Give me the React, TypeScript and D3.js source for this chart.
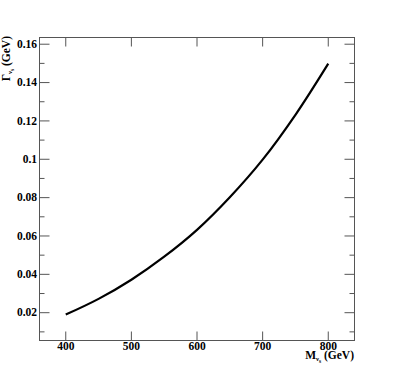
import React from "react";
import * as d3 from "d3";

const massGeV = [400, 450, 500, 550, 600, 650, 700, 750, 800];
const widthGeV = [0.019, 0.0272, 0.0372, 0.0492, 0.0632, 0.0802, 0.0998, 0.1232, 0.1499];
const xTicks = [400, 500, 600, 700, 800];
const yTicks = [0.02, 0.04, 0.06, 0.08, 0.1, 0.12, 0.14, 0.16];
const yMinor = [0.01, 0.03, 0.05, 0.07, 0.09, 0.11, 0.13, 0.15];

const W = 394, H = 378;
const L = 39.5, R = 354.5, T = 37.5, B = 340.5;
const AX = "#555";
const FONT = "'Liberation Serif', 'DejaVu Serif', 'Times New Roman', serif";

export default function App() {
  const x = d3.scaleLinear().domain([360, 840]).range([L, R]);
  const y = d3.scaleLinear().domain([0.0055, 0.1635]).range([B, T]);
  const line = d3
    .line<number>()
    .x((_, i) => x(massGeV[i]))
    .y((d) => y(d))
    .curve(d3.curveCatmullRom.alpha(0.5));
  const fmtY = (v: number) => String(+v.toFixed(2));
  return (
    <svg width={W} height={H} style={{ position: "absolute", left: 0, top: 0, background: "#fff" }}>
      <rect x={L} y={T} width={R - L} height={B - T} fill="none" stroke={AX} strokeWidth={1} />
      {xTicks.map((t) => (
        <g key={"x" + t}>
          <line x1={x(t)} x2={x(t)} y1={B} y2={B - 9} stroke={AX} />
          <line x1={x(t)} x2={x(t)} y1={T} y2={T + 9} stroke={AX} />
          <text x={x(t)} y={350} textAnchor="middle" fontFamily={FONT} fontWeight="bold" fontSize={11.5}>
            {t}
          </text>
        </g>
      ))}
      {yTicks.map((t) => (
        <g key={"y" + t}>
          <line x1={L} x2={L + 10} y1={y(t)} y2={y(t)} stroke={AX} />
          <line x1={R} x2={R - 10} y1={y(t)} y2={y(t)} stroke={AX} />
          <text x={37} y={y(t) + 3.8} textAnchor="end" fontFamily={FONT} fontWeight="bold" fontSize={11.5}>
            {fmtY(t)}
          </text>
        </g>
      ))}
      {yMinor.map((t) => (
        <g key={"ym" + t}>
          <line x1={L} x2={L + 5} y1={y(t)} y2={y(t)} stroke={AX} />
          <line x1={R} x2={R - 5} y1={y(t)} y2={y(t)} stroke={AX} />
        </g>
      ))}
      <path d={line(widthGeV) || ""} fill="none" stroke="#000" strokeWidth={2.2} />
      <text x={354} y={358.5} textAnchor="end" fontFamily={FONT} fontWeight="bold" fontSize={11.5}>
        M
        <tspan fontSize={6.5} dy={2}>ν</tspan>
        <tspan fontSize={5.5} dy={2}>s</tspan>
        <tspan fontSize={11.5} dy={-4}> (GeV)</tspan>
      </text>
      <text
        transform="translate(9.5,36) rotate(-90)"
        textAnchor="end"
        fontFamily={FONT}
        fontWeight="bold"
        fontSize={11.5}
      >
        Γ
        <tspan fontSize={6.5} dy={2}>ν</tspan>
        <tspan fontSize={5.5} dy={2}>s</tspan>
        <tspan fontSize={11.5} dy={-4}> (GeV)</tspan>
      </text>
    </svg>
  );
}
